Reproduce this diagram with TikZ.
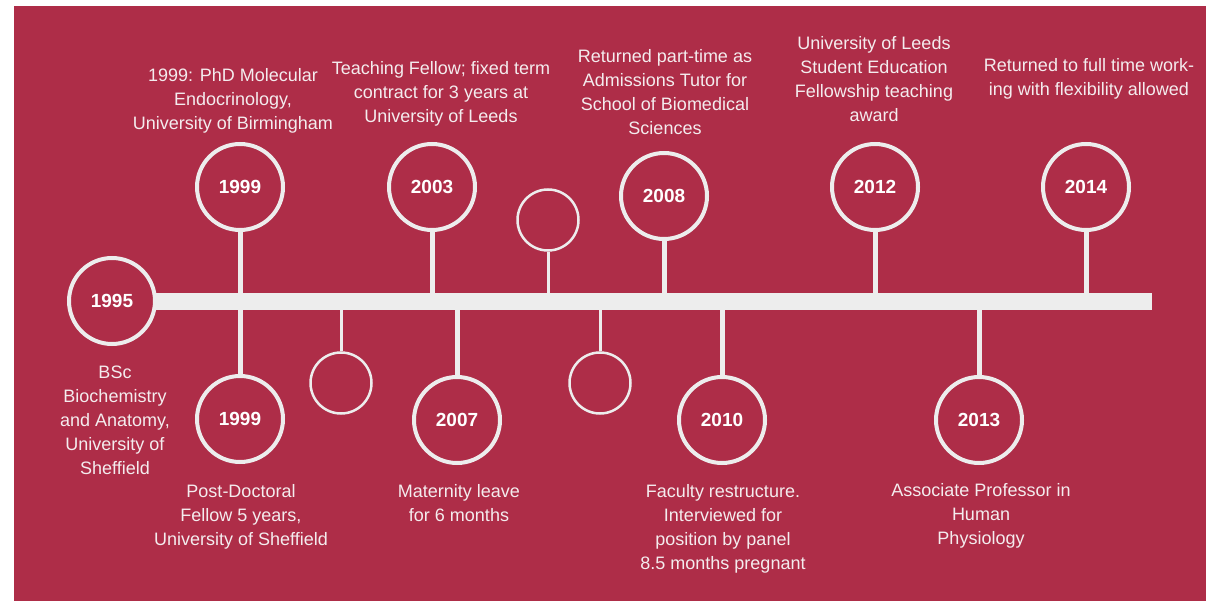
\documentclass[tikz,border=0pt]{standalone}
\usepackage{fontspec}
\setmainfont{Liberation Sans}
\definecolor{crim}{HTML}{AE2D48}
\definecolor{lg}{HTML}{EDEDED}
\definecolor{tx}{HTML}{F4ECEE}
\begin{document}
\begin{tikzpicture}[x=1pt,y=-1pt,
  big/.style={circle,draw=lg,line width=4pt,fill=crim,minimum size=86pt,inner sep=0pt,text=white,font=\fontsize{19}{19}\selectfont\bfseries},
  small/.style={circle,draw=lg,line width=2.5pt,fill=crim,minimum size=61pt,inner sep=0pt},
  stem/.style={draw=lg,line width=5pt},
  thinstem/.style={draw=lg,line width=3pt},
  lbl/.style={align=center,text=tx,font=\fontsize{18}{24}\selectfont,inner sep=0pt,anchor=base}]
\useasboundingbox (0,0) rectangle (1206,601);
\fill[white] (0,0) rectangle (1206,601);
\fill[crim] (14,6) rectangle (1206,601);
\node[fill=lg,minimum width=1002pt,minimum height=17pt,inner sep=0pt,anchor=west] (bar) at (150,301.5) {};
% circles
\node[big] (c1995) at (112,301) {1995};
\node[big] (c1999a) at (240,187) {1999};
\node[big] (c1999b) at (240,419) {1999};
\node[small] (s1) at (341,383) {};
\node[big] (c2003) at (432,187) {2003};
\node[big] (c2007) at (457,420) {2007};
\node[small] (s2) at (548,220) {};
\node[small] (s3) at (600,383) {};
\node[big] (c2008) at (664,196) {2008};
\node[big] (c2010) at (722,420) {2010};
\node[big] (c2012) at (875,187) {2012};
\node[big] (c2013) at (979,420) {2013};
\node[big] (c2014) at (1086,187) {2014};
% stems
\foreach \n in {c1999a,c2003,c2008,c2012,c2014}
  \draw[stem] (\n.south) -- (\n.south |- bar.north);
\foreach \n in {c1999b,c2007,c2010,c2013}
  \draw[stem] (\n.north) -- (\n.north |- bar.south);
\draw[thinstem] (s2.south) -- (s2.south |- bar.north);
\foreach \n in {s1,s3}
  \draw[thinstem] (\n.north) -- (\n.north |- bar.south);
% labels (anchor = baseline of last line)
\node[lbl] (t1999a) at (233,130) {1999: PhD Molecular\\Endocrinology,\\University of Birmingham};
\node[lbl] (t2003) at (441,123) {Teaching Fellow; fixed term\\contract for 3 years at\\University of Leeds};
\node[lbl] (t2008) at (665,135) {Returned part-time as\\Admissions Tutor for\\School of Biomedical\\Sciences};
\node[lbl] (t2012) at (874,122) {University of Leeds\\Student Education\\Fellowship teaching\\award};
\node[lbl] (t2014) at (1089,96) {Returned to full time work-\\ing with flexibility allowed};
\node[lbl] (t1995) at (115,474) {BSc\\Biochemistry\\and Anatomy,\\University of\\Sheffield};
\node[lbl] (t1999b) at (241,545) {Post-Doctoral\\Fellow 5 years,\\University of Sheffield};
\node[lbl] (t2007) at (459,521) {Maternity leave\\for 6 months};
\node[lbl] (t2010) at (723,569) {Faculty restructure.\\Interviewed for\\position by panel\\8.5 months pregnant};
\node[lbl] (t2013) at (981,544) {Associate Professor in\\Human\\Physiology};
\end{tikzpicture}
\end{document}
